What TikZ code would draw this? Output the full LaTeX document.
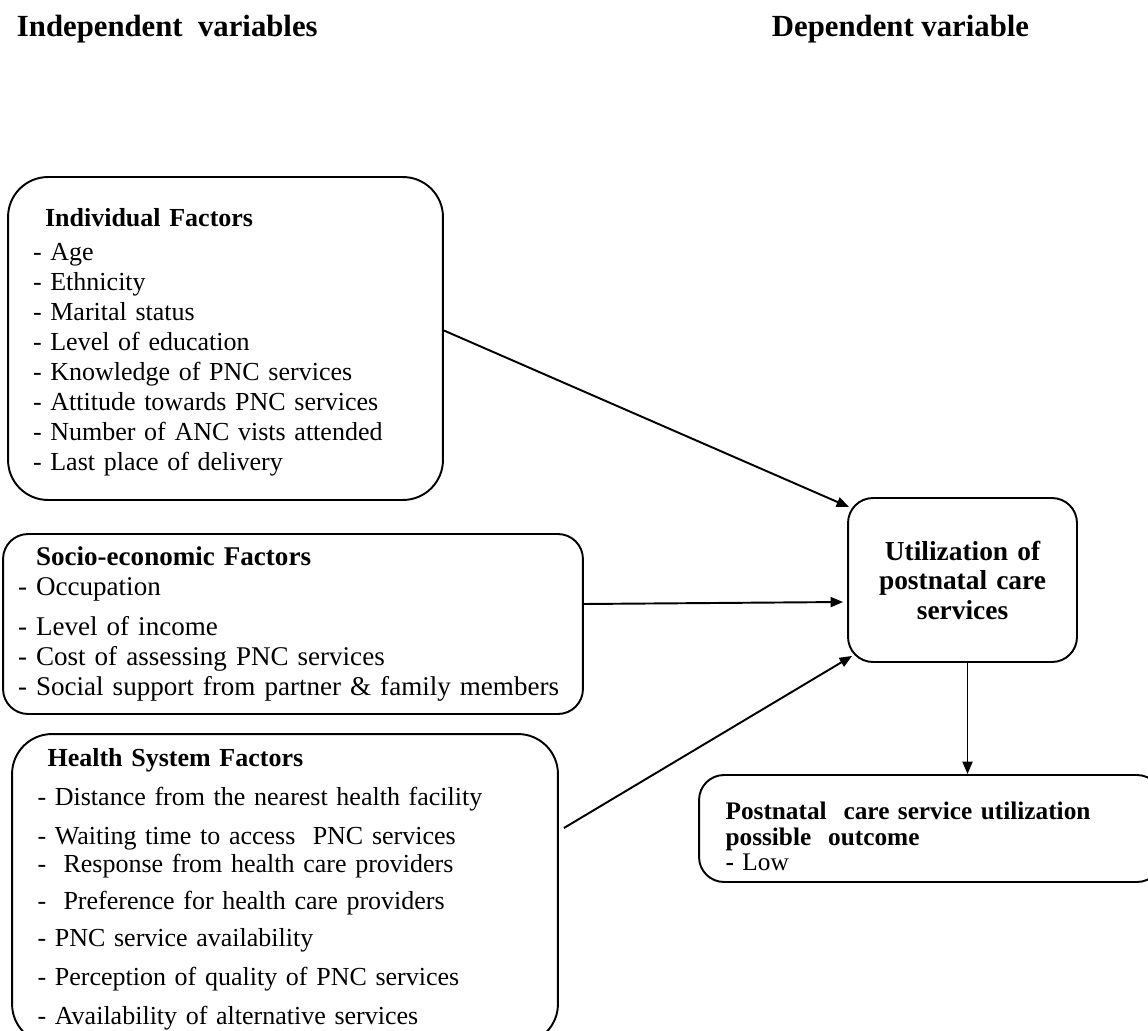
\documentclass[tikz,border=0pt]{standalone}
\usepackage{fontspec}
\setmainfont{Liberation Serif}
\usetikzlibrary{positioning, arrows.meta, calc}

\begin{document}
\begin{tikzpicture}[
    x=0.02cm, y=-0.02cm,
    every node/.style={font=\fontsize{14.8}{17.1}\selectfont},
    line width=1.1pt,
    factor/.style={
        draw=black,
        line width=1.1pt,
        rounded corners=0.8cm,
        align=left,
        inner xsep=0.5cm,
        inner ysep=0pt
    },
    header/.style={
        anchor=base west,
        inner sep=0pt,
        font=\fontsize{17.5}{20}\selectfont\bfseries
    },
    link/.style={
        -{Triangle[length=2.5mm, width=2mm]},
        line width=1.1pt
    }
]
\useasboundingbox (0,0) rectangle (1148,1030);
\clip (0,0) rectangle (1148,1030);

% --- Intestazioni ---
\node[header] (indep) at (16,37) {Independent\ \ variables};
\node[header] (dep) at (771,37) {Dependent variable};

% --- Fattori (variabili indipendenti) ---
\node[factor, minimum width=8.7cm, minimum height=6.46cm, text width=7.7cm] (indiv) at (225.5,338.5)
    {\rule{0pt}{15pt}\hspace*{0.24cm}\textbf{Individual Factors}\\[2pt]
     - Age\\ - Ethnicity\\ - Marital status\\ - Level of education\\
     - Knowledge of PNC services\\ - Attitude towards PNC services\\
     - Number of ANC vists attended\\ - Last place of delivery};

\node[factor, rounded corners=0.5cm, inner xsep=0.28cm, minimum width=11.6cm, minimum height=3.6cm, text width=11cm,
      font=\fontsize{15.4}{17.1}\selectfont] (socio) at (293,624)
    {\hspace*{0.36cm}\textbf{Socio-economic Factors}\\
     - Occupation\\[6pt] - Level of income\\ - Cost of assessing PNC services\\
     - Social support from partner \& family members};

\node[factor, minimum width=10.92cm, minimum height=6.2cm, text width=9.9cm] (health) at (285,889)
    {\hspace*{0.2cm}\textbf{Health System Factors}\\[5pt]
     - Distance from the nearest health facility\\[5pt]
     - Waiting time to access\ \ PNC services\\[-1pt]
     -\ \ Response from health care providers\\[4pt]
     -\ \ Preference for health care providers\\[4pt]
     - PNC service availability\\[5pt]
     - Perception of quality of PNC services\\[5pt]
     - Availability of alternative services};

% --- Variabile dipendente ---
\node[factor, rounded corners=0.5cm, align=center, inner xsep=0.4cm, font=\fontsize{15.6}{16.8}\selectfont\bfseries,
      minimum width=4.58cm, minimum height=3.28cm, text width=3.7cm] (util) at (962.5,580)
    {Utilization of\\ postnatal care\\ services};

\node[factor, rounded corners=0.5cm, font=\fontsize{14.4}{14.6}\selectfont,
      minimum width=9.26cm, minimum height=2.14cm, text width=8.2cm] (outcome) at (930.5,828.5)
    {\rule{0pt}{19pt}\textbf{Postnatal\ \ care service utilization}\\
     \textbf{possible\ \ outcome}\\ \textbf{-} Low};

% --- Frecce ---
\coordinate (drop) at ($(util.south)+(5,0)$);
\draw[link] ($(indiv.east)+(0,-8)$) -- ($(util.north west)+(2,10)$);
\draw[link] ($(socio.east)+(0,-20)$) -- ($(util.west)+(-4,22)$);
\draw[link] ($(health.east)+(5,-61)$) -- ($(util.south west)+(5,-7)$);
\draw[link] (drop) -- (drop |- outcome.north);

\end{tikzpicture}
\end{document}
